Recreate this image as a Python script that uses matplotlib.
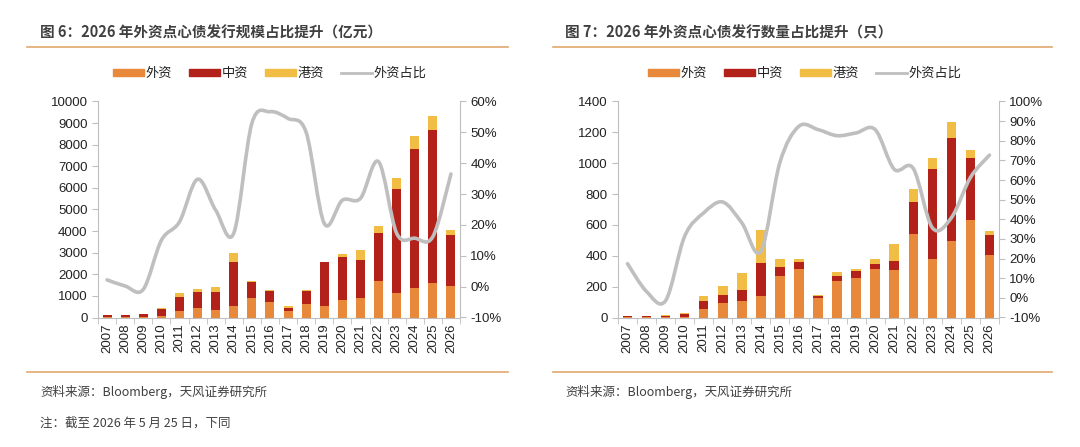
# 2026 外资点心债发行规模 / 数量占比 -- two combo charts side by side
import matplotlib
matplotlib.use("Agg")
import matplotlib.pyplot as plt
from matplotlib.path import Path
from matplotlib.patches import PathPatch, Patch
from matplotlib.lines import Line2D
from matplotlib.ticker import FuncFormatter
import numpy as np

plt.rcParams['font.family'] = ['Liberation Sans', 'Noto Sans CJK SC', 'DejaVu Sans']

years = [str(y) for y in range(2007, 2027)]

# 图6 发行规模（亿元）
scale_foreign = [10, 10, 20, 50, 280, 460, 370, 555, 895, 710, 280, 620, 540, 800, 880, 1700, 1130, 1360, 1590, 1470]
scale_china = [100, 90, 120, 350, 650, 710, 820, 2025, 755, 510, 170, 600, 2010, 1990, 1790, 2200, 4810, 6450, 7100, 2330]
scale_hk = [0, 0, 10, 20, 215, 160, 230, 410, 30, 45, 60, 60, 40, 140, 450, 340, 510, 600, 620, 230]
scale_share = [0.022, 0.002, -0.009, 0.15, 0.21, 0.348, 0.248, 0.173, 0.529, 0.567, 0.545, 0.50,
               0.205, 0.28, 0.286, 0.405, 0.173, 0.157, 0.162, 0.365]

# 图7 发行数量（只）
count_foreign = [3, 3, 5, 5, 58, 93, 106, 141, 271, 316, 124, 238, 258, 312, 306, 542, 381, 494, 631, 403]
count_china = [7, 4, 3, 17, 48, 54, 70, 214, 56, 41, 15, 33, 41, 35, 60, 206, 583, 669, 400, 130]
count_hk = [2, 2, 7, 8, 31, 57, 112, 215, 50, 20, 8, 22, 13, 30, 113, 84, 67, 105, 57, 28]
count_share = [0.174, 0.032, -0.014, 0.314, 0.433, 0.488, 0.382, 0.237, 0.69, 0.874, 0.857, 0.826,
               0.84, 0.857, 0.655, 0.659, 0.357, 0.408, 0.613, 0.727]

C_FOREIGN = "#E8883A"
C_CHINA = "#B3211B"
C_HK = "#F2BD45"
C_LINE = "#BFBFBF"
C_TEXT = "#404040"
C_RULE = "#E2A86E"
C_AXIS = "#BFBFBF"


def smooth_path(x, y):
    """Excel style smoothed line: cubic bezier through every point"""
    pts = np.column_stack([x, y]).astype(float)
    ext = np.vstack([pts[0], pts, pts[-1]])
    verts = [pts[0]]
    codes = [Path.MOVETO]
    for i in range(len(pts) - 1):
        p0, p1, p2, p3 = ext[i], ext[i + 1], ext[i + 2], ext[i + 3]
        c1 = p1 + (p2 - p0) / 6
        c2 = p2 - (p3 - p1) / 6
        verts += [c1, c2, p2]
        codes += [Path.CURVE4] * 3
    return Path(verts, codes)


def draw_chart(rect, foreign, china, hk, share, ymax, ystep, rmax, legend_x):
    ax = fig.add_axes(rect)
    x = np.arange(len(years))
    f = np.array(foreign)
    c = np.array(china)
    h = np.array(hk)
    ax.bar(x, f, 0.5, color=C_FOREIGN, zorder=2)
    ax.bar(x, c, 0.5, bottom=f, color=C_CHINA, zorder=2)
    ax.bar(x, h, 0.5, bottom=f + c, color=C_HK, zorder=2)
    ax.set_xlim(-0.5, len(years) - 0.5)
    ax.set_ylim(0, ymax)
    ax.set_yticks(np.arange(0, ymax + 1, ystep))
    ax.set_xticks(x)
    ax.set_xticklabels(years, rotation=90)
    ax.set_xticks(np.arange(-0.5, len(years), 1), minor=True)
    ax.tick_params(axis='x', which='major', length=0, pad=4)
    ax.tick_params(axis='x', which='minor', length=4, color=C_AXIS)
    ax.tick_params(axis='y', length=4, color=C_AXIS)
    ax.tick_params(labelsize=9.5, labelcolor="#222222")
    for s in ['top', 'right']:
        ax.spines[s].set_visible(False)
    for s in ['left', 'bottom']:
        ax.spines[s].set_color(C_AXIS)

    ax2 = ax.twinx()
    ax2.set_ylim(-0.1, rmax)
    ax2.set_yticks(np.arange(-0.1, rmax + 0.001, 0.1))
    ax2.yaxis.set_major_formatter(FuncFormatter(lambda v, p: f"{v * 100:.0f}%"))
    ax2.tick_params(axis='y', length=4, color=C_AXIS, labelsize=9.5, labelcolor="#222222")
    for s in ['top', 'left', 'bottom']:
        ax2.spines[s].set_visible(False)
    ax2.spines['right'].set_color(C_AXIS)
    ax2.add_patch(PathPatch(smooth_path(x, share), fill=False, edgecolor=C_LINE,
                            lw=2.6, capstyle='round', zorder=3))

    handles = [Patch(color=C_FOREIGN), Patch(color=C_CHINA), Patch(color=C_HK),
               Line2D([], [], color=C_LINE, lw=2)]
    fig.legend(handles, ["外资", "中资", "港资", "外资占比"], loc='center',
               bbox_to_anchor=(legend_x, 1 - 74 / 447), ncol=4, frameon=False,
               fontsize=9.5, handlelength=2.3, handleheight=0.5, handletextpad=0.15,
               columnspacing=1.3, labelcolor="#222222")
    return ax


fig = plt.figure(figsize=(10.8, 4.47), dpi=100)
H = 447
W = 1080

draw_chart([98 / W, 1 - 317.5 / H, 362 / W, 216 / H], scale_foreign, scale_china, scale_hk,
           scale_share, 10000, 1000, 0.6, 270 / W)
draw_chart([618 / W, 1 - 317.5 / H, 381 / W, 216 / H], count_foreign, count_china, count_hk,
           count_share, 1400, 200, 1.0, 805 / W)

# titles, rules and sources
fig.text(40 / W, 1 - 33 / H, "图 6：2026 年外资点心债发行规模占比提升（亿元）", fontsize=10.5,
         fontweight='bold', color=C_TEXT, va='center', family=['Noto Sans CJK SC', 'DejaVu Sans'])
fig.text(565 / W, 1 - 33 / H, "图 7：2026 年外资点心债发行数量占比提升（只）", fontsize=10.5,
         fontweight='bold', color=C_TEXT, va='center', family=['Noto Sans CJK SC', 'DejaVu Sans'])
for x0, x1 in [(27, 508), (553, 1052)]:
    for yy in [47, 372]:
        fig.add_artist(Line2D([x0 / W, x1 / W], [1 - yy / H, 1 - yy / H], color=C_RULE, lw=1.2))
fig.text(40 / W, 1 - 392 / H, "资料来源：Bloomberg，天风证券研究所", fontsize=9, color=C_TEXT,
         va='center', family=['Noto Sans CJK SC', 'DejaVu Sans'])
fig.text(565 / W, 1 - 392 / H, "资料来源：Bloomberg，天风证券研究所", fontsize=9, color=C_TEXT,
         va='center', family=['Noto Sans CJK SC', 'DejaVu Sans'])
fig.text(40 / W, 1 - 423 / H, "注：截至 2026 年 5 月 25 日，下同", fontsize=9, color=C_TEXT,
         va='center', family=['Noto Sans CJK SC', 'DejaVu Sans'])

fig.savefig("out.png", dpi=100)
